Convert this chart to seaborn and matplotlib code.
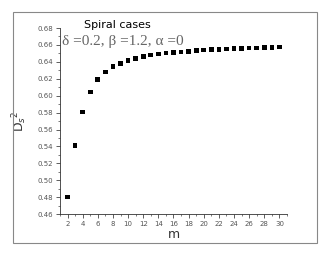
import numpy as np
import pandas as pd
import seaborn as sns
import matplotlib.pyplot as plt
from matplotlib.patches import Rectangle
from matplotlib.ticker import MultipleLocator

m = list(range(2, 31))
ds2 = [0.4804, 0.5414, 0.5807, 0.6045, 0.6188, 0.6280, 0.6343, 0.6383, 0.6419,
       0.6443, 0.6462, 0.6482, 0.6494, 0.6506, 0.6510, 0.6518, 0.6525, 0.6532,
       0.6538, 0.6543, 0.6548, 0.6552, 0.6556, 0.6560, 0.6563, 0.6566, 0.6569,
       0.6572, 0.6574]

df = pd.DataFrame({'m': m, 'D': ds2})

sns.set_style('ticks')
plt.rcParams['font.family'] = ['DejaVu Sans']

fig = plt.figure(figsize=(3.33, 2.57), dpi=100)
ax = fig.add_axes([0.18, 0.167, 0.682, 0.724])

sns.scatterplot(data=df, x='m', y='D', marker='s', s=11, color='black',
                edgecolor='none', ax=ax)

ax.set_xlim(1, 31)
ax.set_ylim(0.46, 0.68)
ax.xaxis.set_major_locator(MultipleLocator(2))
ax.xaxis.set_minor_locator(MultipleLocator(1))
ax.yaxis.set_major_locator(MultipleLocator(0.02))
ax.yaxis.set_minor_locator(MultipleLocator(0.01))
ax.tick_params(which='major', length=3, width=0.6, labelsize=5, colors='#444444', pad=2)
ax.tick_params(which='minor', length=1.5, width=0.5, colors='#444444')
ax.tick_params(labelcolor='#555555')
ax.yaxis.set_major_formatter(plt.FuncFormatter(lambda v, p: f'{v:.2f}'))
sns.despine(ax=ax)
for s in ['left', 'bottom']:
    ax.spines[s].set_linewidth(0.6)
    ax.spines[s].set_color('#333333')

ax.set_xlabel('m', fontsize=9, labelpad=1, color='#333333')
ax.set_ylabel(r'D$_s$$^2$', fontsize=9, labelpad=6, color='#333333')

ax.text(0.255, 1.018, 'Spiral cases', transform=ax.transAxes, fontsize=8,
        ha='center', va='center', color='black')
ax.text(0.01, 0.925, 'δ =0.2, β =1.2, α =0', transform=ax.transAxes,
        fontsize=11, family='Liberation Serif', color='#666666',
        ha='left', va='center')

fig.patches.append(Rectangle((13 / 333, 1 - 243 / 257), 304 / 333, 231 / 257,
                             transform=fig.transFigure, fill=False,
                             edgecolor='#888888', linewidth=0.8))

fig.savefig('out.png', dpi=100)
